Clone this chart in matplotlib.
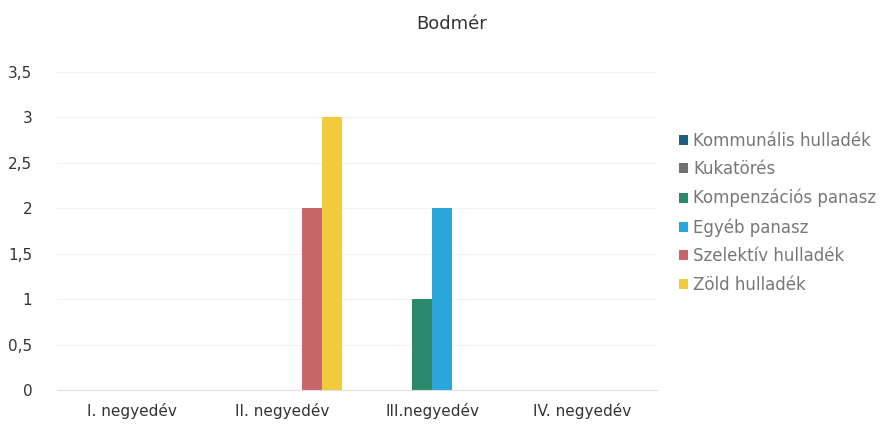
import numpy as np
import matplotlib.pyplot as plt

# data
categories = ['I. negyedév', 'II. negyedév', 'III.negyedév', 'IV. negyedév']
series = ['Kommunális hulladék', 'Kukatörés', 'Kompenzációs panasz',
          'Egyéb panasz', 'Szelektív hulladék', 'Zöld hulladék']
kommunalis = [0, 0, 0, 0]
kukatores = [0, 0, 0, 0]
kompenzacios = [0, 0, 1, 0]
egyeb = [0, 0, 2, 0]
szelektiv = [0, 2, 0, 0]
zold = [0, 3, 0, 0]

values = [kommunalis, kukatores, kompenzacios, egyeb, szelektiv, zold]
colors = ['#1d5f86', '#707070', '#2b8a6c', '#2ba6dc', '#c9666a', '#f1cb3c']

fig = plt.figure(figsize=(8.95, 4.3), dpi=100)
ax = fig.add_axes([0.064, 0.093, 0.67, 0.74])

x = np.arange(len(categories))
width = 0.8 / len(series)
for i, (name, vals) in enumerate(zip(series, values)):
    ax.bar(x - 0.4 + width * (i + 0.5), vals, width, color=colors[i], label=name)

ax.set_xlim(-0.5, 3.5)
ax.set_ylim(0, 3.5)
ticks = np.arange(0, 3.51, 0.5)
ax.set_yticks(ticks)
ax.set_yticklabels([('%g' % t).replace('.', ',') for t in ticks])
ax.set_xticks(x)
ax.set_xticklabels(categories)
ax.tick_params(length=0, labelsize=11, colors='#333333')
ax.tick_params(axis='y', pad=18)
ax.tick_params(axis='x', pad=9)
ax.grid(axis='y', color='#f2f2f2', linewidth=0.8)
ax.set_axisbelow(True)
for s in ['top', 'right', 'left']:
    ax.spines[s].set_visible(False)
ax.spines['bottom'].set_color('#e0e0e0')

fig.suptitle('Bodmér', fontsize=13, color='#333333', x=0.505, y=0.965)

ax.legend(loc='center left', bbox_to_anchor=(1.012, 0.557), frameon=False,
          fontsize=12, labelcolor='#777777', handlelength=0.55,
          handleheight=0.55, handletextpad=0.3, labelspacing=0.64)

plt.savefig('out.png', dpi=100)
